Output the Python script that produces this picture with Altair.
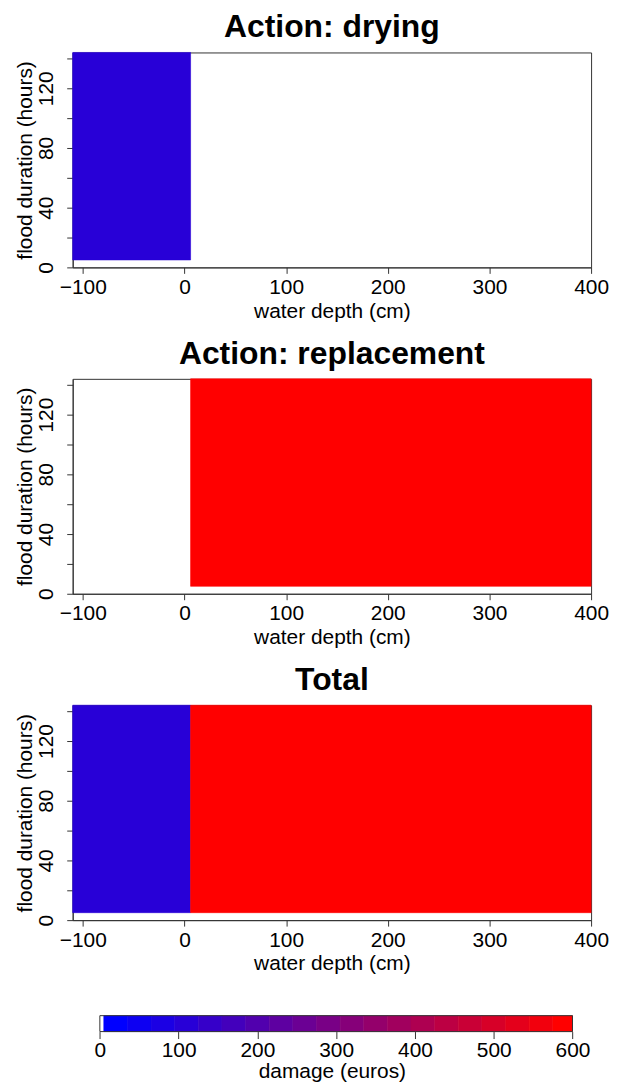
import altair as alt
import pandas as pd

FONT = "Liberation Sans"

# panel cells: water depth range (cm), flood duration range (hours), damage (euros)
drying_x0 = [-110]
drying_x1 = [6]
drying_y0 = [5]
drying_y1 = [144]
drying_val = [110]

repl_x0 = [6]
repl_x1 = [400]
repl_y0 = [5]
repl_y1 = [144]
repl_val = [590]

total_x0 = [-110, 6]
total_x1 = [6, 400]
total_y0 = [5, 5]
total_y1 = [144, 144]
total_val = [110, 590]

# colour key
color_breaks = [5, 35, 65, 95, 125, 155, 185, 215, 245, 275, 305, 335,
                365, 395, 425, 455, 485, 515, 545, 575]
key_lo = [0, 5, 35, 65, 95, 125, 155, 185, 215, 245, 275, 305, 335,
          365, 395, 425, 455, 485, 515, 545, 575]
key_hi = [5, 35, 65, 95, 125, 155, 185, 215, 245, 275, 305, 335,
          365, 395, 425, 455, 485, 515, 545, 575, 600]
key_ticks = [0, 100, 200, 300, 400, 500, 600]

x_ticks = [-100, 0, 100, 200, 300, 400]
y_ticks = [0, 20, 40, 60, 80, 100, 120, 140]

n = len(color_breaks)
palette = ["#ffffff"] + [
    "#%02x%02x%02x" % (round(255 * i / (n - 1)), 0, round(255 * (1 - i / (n - 1))))
    for i in range(n)
]
color_scale = alt.Scale(type="threshold", domain=color_breaks, range=palette)

W, H = 521, 216
AX = "#333333"


def panel(title, x0, x1, y0, y1, val):
    df = pd.DataFrame({"x0": x0, "x1": x1, "y0": y0, "y1": y1, "damage": val})
    return (
        alt.Chart(df, title=title)
        .mark_rect(strokeWidth=0.6)
        .encode(
            x=alt.X(
                "x0:Q",
                scale=alt.Scale(domain=[-110, 400], nice=False, zero=False),
                axis=alt.Axis(values=x_ticks, title="water depth (cm)",
                              tickSize=6, labelPadding=3, titlePadding=3),
            ),
            x2="x1:Q",
            y=alt.Y(
                "y0:Q",
                scale=alt.Scale(domain=[0, 144], nice=False),
                axis=alt.Axis(
                    values=y_ticks,
                    title="flood duration (hours)",
                    labelAngle=270,
                    labelAlign="center",
                    labelBaseline="bottom",
                    labelExpr="datum.value % 40 == 0 ? datum.label : ''",
                    tickSize=6, labelPadding=10, titlePadding=0,
                ),
            ),
            y2="y1:Q",
            color=alt.Color("damage:Q", scale=color_scale, legend=None),
            stroke=alt.Stroke("damage:Q", scale=color_scale, legend=None),
        )
        .properties(width=W, height=H)
    )


p1 = panel("Action: drying", drying_x0, drying_x1, drying_y0, drying_y1, drying_val)
p2 = panel("Action: replacement", repl_x0, repl_x1, repl_y0, repl_y1, repl_val)
p3 = panel("Total", total_x0, total_x1, total_y0, total_y1, total_val)

key_df = pd.DataFrame({"lo": key_lo, "hi": key_hi,
                       "mid": [(a + b) / 2 for a, b in zip(key_lo, key_hi)]})
key_x = alt.Scale(domain=[-34.5, 623.6], nice=False, zero=False)
key_y = alt.Scale(domain=[0, 2.625], nice=False)
key_bar = alt.Chart(key_df).mark_rect(strokeWidth=0.6).encode(
    x=alt.X("lo:Q", scale=key_x,
            axis=alt.Axis(values=key_ticks, title="damage (euros)", domain=False,
                          tickSize=7, labelPadding=1, titlePadding=0)),
    x2="hi:Q",
    y=alt.Y("y0:Q", scale=key_y, axis=None),
    y2="y1:Q",
    color=alt.Color("mid:Q", scale=color_scale, legend=None),
    stroke=alt.Stroke("mid:Q", scale=color_scale, legend=None),
).transform_calculate(y0="0", y1="1")

box_df = pd.DataFrame({"lo": [0], "hi": [600], "y0": [0], "y1": [1]})
key_box = alt.Chart(box_df).mark_rect(fill=None, stroke=AX, strokeWidth=1).encode(
    x=alt.X("lo:Q", scale=key_x), x2="hi:Q",
    y=alt.Y("y0:Q", scale=key_y), y2="y1:Q",
)
key = alt.layer(key_bar, key_box).properties(
    width=W, height=42, view=alt.ViewBackground(stroke=None)
)

chart = (
    alt.vconcat(p1, p2, p3, key, spacing=15)
    .properties(padding={"left": 6, "top": 0, "right": 0, "bottom": 0})
    .configure_view(stroke=AX, strokeWidth=1)
    .configure_axis(
        labelFont=FONT, titleFont=FONT, labelFontSize=21, titleFontSize=21,
        labelColor="#000", titleColor="#000", titleFontWeight="normal",
        domainColor=AX, tickColor=AX, grid=False,
        labelFlush=False, labelOverlap=False,
    )
    .configure_title(
        font=FONT, fontSize=32, fontWeight="bold", color="#000",
        anchor="middle", frame="group", offset=8,
    )
)

chart.save("out.html", embed_options={"renderer": "svg", "actions": False})
